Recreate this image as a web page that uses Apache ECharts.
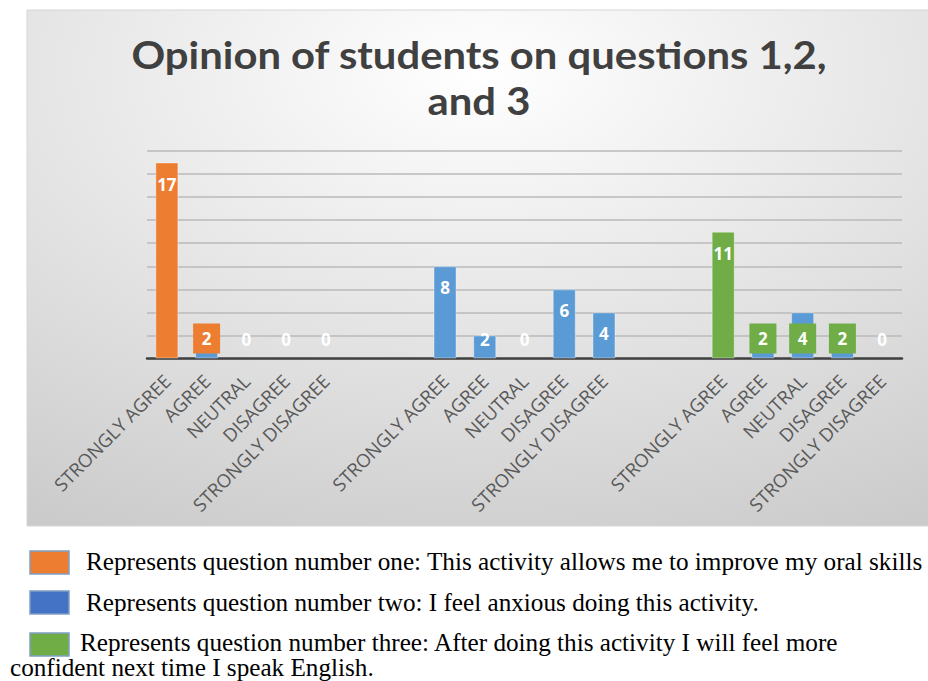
<!DOCTYPE html>
<html>
<head>
<meta charset="utf-8">
<script src="https://cdn.jsdelivr.net/npm/echarts@6/dist/echarts.min.js"></script>
<style>
  html, body { margin: 0; padding: 0; background: #ffffff; }
  #chart { width: 928px; height: 681px; }
</style>
</head>
<body>
<div id="chart"></div>
<script>
// Answer scale repeated for each of the three questions, separated by two empty slots
const answers = ['STRONGLY AGREE', 'AGREE', 'NEUTRAL', 'DISAGREE', 'STRONGLY DISAGREE'];
const categories = [...answers, '', '', ...answers, '', '', ...answers];

// Number of students per answer (null = slot belongs to another question)
const q1Values = [17, 2, 0, 0, 0, null, null, null, null, null, null, null, null, null, null, null, null, null, null];
const q2Values = [null, null, null, null, null, null, null, 8, 2, 0, 6, 4, null, null, null, null, null, null, null];
const q3Values = [null, null, null, null, null, null, null, null, null, null, null, null, null, null, 11, 2, 4, 2, 0];

const seriesNames = ['Question 1', 'Question 2', 'Question 3'];
const titleText = 'Opinion of students on questions 1,2,\nand 3';
const legendLines = [
  'Represents question number one: This activity allows me to improve my oral skills',
  'Represents question number two: I feel anxious doing this activity.',
  'Represents question number three: After doing this activity I will feel more',
  'confident next time I speak English.'
];

// Slots whose value label is drawn as a filled tag over a blue bar
const taggedSlots = [1, 15, 16, 17];

const ORANGE = '#ED7D31';
const BLUE = '#5B9BD5';
const GREEN = '#70AD47';

function buildData(values, color) {
  return values.map(function (v, i) {
    if (v === null) return null;
    const item = { value: v };
    if (taggedSlots.indexOf(i) >= 0) {
      item.itemStyle = { color: BLUE, borderColor: 'rgba(255,255,255,0.35)' };
      item.label = {
        position: 'insideBottom', distance: 5,
        backgroundColor: color, width: 27, height: 30, lineHeight: 30,
        align: 'center', verticalAlign: 'bottom', padding: 0
      };
    } else if (v >= 4) {
      item.label = { position: 'insideTop', distance: 13 };
    } else {
      item.label = { position: 'insideBottom', distance: 11 };
    }
    if (v === 0) item.itemStyle = { borderWidth: 0 };
    return item;
  });
}

function barSeries(name, values, color) {
  return {
    name: name,
    type: 'bar',
    barWidth: 23,
    barGap: '-100%',
    itemStyle: { color: color, borderColor: 'rgba(255,255,255,0.35)', borderWidth: 1 },
    label: {
      show: true,
      color: '#ffffff',
      fontFamily: 'Open Sans',
      fontWeight: 'bold',
      fontSize: 17
    },
    data: buildData(values, color)
  };
}

const chart = echarts.init(document.getElementById('chart'), null, { renderer: 'svg' });

const legendColors = [ORANGE, '#4472C4', GREEN];
const legendGraphics = [];
[551, 591, 633].forEach(function (y, i) {
  legendGraphics.push({
    type: 'rect', shape: { x: 30, y: y, width: 39, height: 23 },
    style: { fill: legendColors[i], stroke: '#7f9fc4', lineWidth: 1.5 }
  });
});
[[86, 561], [86, 602], [80, 642], [10, 667]].forEach(function (p, i) {
  legendGraphics.push({
    type: 'text',
    style: {
      text: legendLines[i], x: p[0], y: p[1],
      verticalAlign: 'middle', fill: '#000000',
      font: '25.2px "Liberation Serif"'
    }
  });
});

chart.setOption({
  animation: false,
  backgroundColor: '#ffffff',
  graphic: [
    {
      type: 'rect', z: -10,
      shape: { x: 27, y: 10, width: 905, height: 516 },
      style: {
        fill: new echarts.graphic.RadialGradient(0.5, 0.12, 1.2, [
          { offset: 0, color: '#ffffff' },
          { offset: 1, color: '#c0c0c0' }
        ]),
        stroke: '#d6d6d6', lineWidth: 1
      }
    },
    {
      type: 'text',
      x: 479, y: 32, scaleX: 1.1,
      style: {
        text: titleText, x: 0, y: 0, textAlign: 'center',
        fill: '#404040', font: 'bold 38px Lato', lineHeight: 46
      }
    }
  ].concat(legendGraphics),
  grid: { left: 147, right: 26, top: 151, bottom: 322.5, containLabel: false, outerBoundsMode: 'none' },
  xAxis: {
    type: 'category',
    data: categories,
    axisTick: { show: false },
    axisLine: { lineStyle: { color: '#404040', width: 2.5 } },
    axisLabel: {
      interval: 0, rotate: 45, margin: 19,
      color: '#595959', fontFamily: 'Open Sans', fontSize: 18.5
    }
  },
  yAxis: {
    type: 'value', min: 0, max: 18, interval: 2,
    axisLabel: { show: false },
    axisLine: { show: false },
    axisTick: { show: false },
    splitLine: { lineStyle: { color: '#bababa', width: 1.5 } }
  },
  series: [
    barSeries(seriesNames[0], q1Values, ORANGE),
    barSeries(seriesNames[1], q2Values, BLUE),
    barSeries(seriesNames[2], q3Values, GREEN)
  ]
});
</script>
</body>
</html>
